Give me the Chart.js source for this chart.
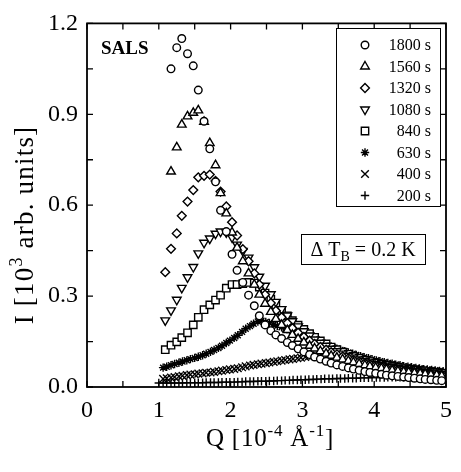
<!DOCTYPE html>
<html>
<head>
<meta charset="utf-8">
<script src="https://cdn.jsdelivr.net/npm/chart.js@4.4.1/dist/chart.umd.min.js"></script>
<style>
  html, body { margin: 0; padding: 0; background: #fff; }
  #wrap { width: 461px; height: 472px; }
</style>
</head>
<body>
<div id="wrap"><canvas id="c"></canvas></div>
<script>
// Q values [10^-4 A^-1] for the later times
const q = [1.02, 1.09, 1.17, 1.25, 1.32, 1.40, 1.48, 1.55, 1.63, 1.71, 1.79, 1.86, 1.94,
  2.02, 2.09, 2.17, 2.25, 2.33, 2.40, 2.48, 2.56, 2.63, 2.71, 2.79, 2.86, 2.94,
  3.02, 3.10, 3.17, 3.25, 3.33, 3.40, 3.48, 3.56, 3.64, 3.71, 3.79, 3.87, 3.94,
  4.02, 4.10, 4.17, 4.25, 4.33, 4.41, 4.48, 4.56, 4.64, 4.71, 4.79, 4.87, 4.94];
// finer Q values for the early times
const qd = [1.00, 1.06, 1.11, 1.17, 1.22, 1.28, 1.33, 1.39, 1.44, 1.50,
  1.55, 1.61, 1.66, 1.72, 1.77, 1.83, 1.88, 1.94, 1.99, 2.05,
  2.10, 2.16, 2.21, 2.27, 2.32, 2.38, 2.43, 2.49, 2.54, 2.60,
  2.65, 2.71, 2.76, 2.82, 2.87, 2.93, 2.98, 3.04, 3.09, 3.15,
  3.20, 3.26, 3.31, 3.37, 3.42, 3.48, 3.53, 3.59, 3.64, 3.70,
  3.75, 3.81, 3.86, 3.92, 3.97, 4.03, 4.08, 4.14, 4.19, 4.25,
  4.30, 4.36, 4.41, 4.47, 4.52, 4.58, 4.63, 4.69, 4.74, 4.80,
  4.85, 4.91, 4.96];

// intensities [10^3 arb. units], one list per time
const i1800 = [null, null, 1.05, 1.12, 1.15, 1.10, 1.06, 0.98, 0.877, 0.786, 0.677, 0.583, 0.513,
  0.438, 0.385, 0.345, 0.303, 0.268, 0.235, 0.205, 0.186, 0.172, 0.160, 0.147, 0.137, 0.126,
  0.116, 0.107, 0.099, 0.092, 0.085, 0.079, 0.073, 0.068, 0.063, 0.059, 0.055, 0.051, 0.048,
  0.045, 0.042, 0.039, 0.037, 0.035, 0.033, 0.031, 0.029, 0.027, 0.025, 0.024, 0.022, 0.021];
const i1560 = [null, null, 0.711, 0.791, 0.866, 0.893, 0.905, 0.913, 0.875, 0.805, 0.732, 0.640, 0.573,
  0.51, 0.46, 0.415, 0.375, 0.338, 0.305, 0.275, 0.248, 0.225, 0.205, 0.188, 0.172, 0.159,
  0.147, 0.136, 0.127, 0.118, 0.110, 0.103, 0.097, 0.091, 0.086, 0.081, 0.076, 0.072, 0.068,
  0.064, 0.061, 0.058, 0.055, 0.052, 0.050, 0.048, 0.046, 0.044, 0.042, 0.040, 0.039, 0.037];
const i1320 = [null, 0.379, 0.456, 0.507, 0.565, 0.612, 0.650, 0.692, 0.697, 0.701, 0.68, 0.645, 0.596,
  0.544, 0.50, 0.455, 0.415, 0.375, 0.338, 0.305, 0.277, 0.252, 0.230, 0.211, 0.194, 0.179,
  0.165, 0.153, 0.142, 0.132, 0.123, 0.115, 0.108, 0.101, 0.095, 0.089, 0.084, 0.079, 0.075,
  0.071, 0.067, 0.063, 0.060, 0.057, 0.054, 0.052, 0.049, 0.047, 0.045, 0.043, 0.041, 0.040];
const i1080 = [null, 0.22, 0.253, 0.288, 0.327, 0.362, 0.396, 0.441, 0.476, 0.49, 0.506, 0.513, 0.51,
  0.494, 0.47, 0.449, 0.427, 0.395, 0.364, 0.334, 0.306, 0.281, 0.257, 0.236, 0.217, 0.200,
  0.184, 0.170, 0.157, 0.146, 0.136, 0.126, 0.118, 0.110, 0.103, 0.097, 0.091, 0.086, 0.081,
  0.076, 0.072, 0.068, 0.065, 0.062, 0.059, 0.056, 0.053, 0.051, 0.049, 0.047, 0.045, 0.043];
const i840 = [null, 0.123, 0.138, 0.149, 0.163, 0.179, 0.205, 0.230, 0.255, 0.271, 0.287, 0.303, 0.326,
  0.338, 0.338, 0.341, 0.345, 0.343, 0.33, 0.31, 0.29, 0.27, 0.252, 0.235, 0.219, 0.204,
  0.190, 0.176, 0.164, 0.152, 0.142, 0.132, 0.123, 0.115, 0.108, 0.101, 0.095, 0.089, 0.084,
  0.079, 0.075, 0.071, 0.067, 0.064, 0.061, 0.058, 0.055, 0.053, 0.051, 0.049, 0.047, 0.045];
const i630 = [null, 0.064, 0.067, 0.072, 0.076, 0.080, 0.084, 0.088, 0.092, 0.096,
  0.100, 0.105, 0.110, 0.116, 0.122, 0.129, 0.136, 0.145, 0.153, 0.162,
  0.171, 0.182, 0.192, 0.201, 0.209, 0.216, 0.219, 0.215, 0.211, 0.206,
  0.202, 0.197, 0.192, 0.187, 0.182, 0.176, 0.171, 0.166, 0.161, 0.156,
  0.151, 0.146, 0.141, 0.136, 0.131, 0.126, 0.122, 0.118, 0.114, 0.110,
  0.106, 0.102, 0.098, 0.095, 0.092, 0.088, 0.085, 0.082, 0.079, 0.077,
  0.074, 0.072, 0.069, 0.067, 0.065, 0.063, 0.061, 0.059, 0.058, 0.056,
  0.055, 0.053, 0.052];
const i400 = [null, 0.027, 0.029, 0.031, 0.033, 0.035, 0.037, 0.039, 0.041, 0.042,
  0.044, 0.045, 0.047, 0.048, 0.050, 0.052, 0.054, 0.056, 0.058, 0.060,
  0.062, 0.065, 0.068, 0.071, 0.073, 0.075, 0.077, 0.079, 0.081, 0.083,
  0.085, 0.087, 0.089, 0.091, 0.093, 0.095, 0.097, 0.099, 0.101, 0.103,
  0.104, 0.105, 0.105, 0.104, 0.103, 0.101, 0.099, 0.097, 0.095, 0.093,
  0.091, 0.089, 0.086, 0.084, 0.082, 0.080, 0.077, 0.075, 0.073, 0.071,
  0.069, 0.067, 0.065, 0.063, 0.061, 0.059, 0.058, 0.056, 0.054, 0.052,
  0.051, 0.049, 0.048];
const i200 = [0.013, 0.013, 0.013, 0.013, 0.013, 0.013, 0.013, 0.014, 0.014, 0.014,
  0.014, 0.014, 0.015, 0.015, 0.015, 0.015, 0.016, 0.016, 0.016, 0.016,
  0.017, 0.017, 0.018, 0.018, 0.018, 0.019, 0.019, 0.019, 0.020, 0.020,
  0.021, 0.021, 0.022, 0.022, 0.023, 0.023, 0.024, 0.024, 0.025, 0.025,
  0.026, 0.026, 0.027, 0.027, 0.027, 0.028, 0.028, 0.028, 0.029, 0.029,
  0.029, 0.030, 0.030, 0.030, 0.031, 0.031, 0.031, 0.031, 0.032, 0.032,
  0.032, 0.032, 0.032, 0.032, 0.032, 0.032, 0.032, 0.032, 0.032, 0.032,
  0.031, 0.031, 0.031];

const seriesLabels = ['1800 s', '1560 s', '1320 s', '1080 s', '840 s', '630 s', '400 s', '200 s'];
const seriesValues = [i1800, i1560, i1320, i1080, i840, i630, i400, i200];
const seriesQ = [q, q, q, q, q, qd, qd, qd];
const xTickMarks = [0, 0.5, 1, 1.5, 2, 2.5, 3, 3.5, 4, 4.5, 5];
const yTickMarks = [0, 0.15, 0.3, 0.45, 0.6, 0.75, 0.9, 1.05, 1.2];

const markers = [
  { style: 'circle', r: 3.8, rot: 0 },
  { style: 'triangle', r: 5, rot: 0 },
  { style: 'rectRot', r: 4.4, rot: 0 },
  { style: 'triangle', r: 5, rot: 180 },
  { style: 'rect', r: 5.2, rot: 0 },
  { style: 'star', r: 4.2, rot: 0 },
  { style: 'crossRot', r: 5.4, rot: 0 },
  { style: 'cross', r: 4.2, rot: 0 }
];

const serif = '"Liberation Serif", "Times New Roman", serif';

const datasets = seriesValues.map((vals, k) => ({
  label: seriesLabels[k],
  data: seriesQ[k].map((x, i) => ({ x: x, y: vals[i] })).filter(p => p.y !== null),
  pointStyle: markers[k].style,
  pointRadius: markers[k].r,
  pointRotation: markers[k].rot,
  pointBorderWidth: 1.4,
  borderColor: '#000',
  backgroundColor: '#fff',
  showLine: false
}));

function drawRich(ctx, parts, cx, cy, spacing) {
  // parts: [text, size, dy]
  ctx.letterSpacing = (spacing || 0) + 'px';
  let total = 0;
  parts.forEach(p => { ctx.font = p[1] + 'px ' + serif; total += ctx.measureText(p[0]).width; });
  let x = cx - total / 2;
  parts.forEach(p => {
    ctx.font = p[1] + 'px ' + serif;
    ctx.fillText(p[0], x, cy + p[2]);
    x += ctx.measureText(p[0]).width;
  });
  ctx.letterSpacing = '0px';
}

const decor = {
  id: 'decor',
  afterDatasetsDraw(chart) {
    const { ctx, chartArea: a, scales: { x, y } } = chart;
    ctx.save();
    ctx.strokeStyle = '#000';
    ctx.lineWidth = 1.3;
    ctx.beginPath();
    xTickMarks.forEach(v => {
      const px = x.getPixelForValue(v);
      ctx.moveTo(px, a.bottom); ctx.lineTo(px, a.bottom - 6);
      ctx.moveTo(px, a.top); ctx.lineTo(px, a.top + 6);
    });
    yTickMarks.forEach(v => {
      const py = y.getPixelForValue(v);
      ctx.moveTo(a.left, py); ctx.lineTo(a.left + 6, py);
      ctx.moveTo(a.right, py); ctx.lineTo(a.right - 6, py);
    });
    ctx.stroke();
    ctx.lineWidth = 1.8;
    ctx.strokeRect(a.left, a.top, a.right - a.left, a.bottom - a.top);

    // legend box
    ctx.lineWidth = 1;
    ctx.fillStyle = '#fff';
    ctx.fillRect(336, 28, 104, 178);
    ctx.strokeRect(336.5, 28.5, 104, 178);
    ctx.textBaseline = 'middle';
    seriesLabels.forEach((lab, k) => {
      const yy = 45 + k * 21.5;
      ctx.fillStyle = '#fff';
      ctx.strokeStyle = '#000';
      ctx.lineWidth = 1.4;
      Chart.helpers.drawPoint(ctx, { pointStyle: markers[k].style, radius: markers[k].r, rotation: markers[k].rot, borderWidth: 1.4 }, 365, yy);
      ctx.fillStyle = '#000';
      ctx.font = '16px ' + serif;
      ctx.textAlign = 'right';
      ctx.fillText(lab, 431, yy + 1);
    });

    // delta T box
    ctx.fillStyle = '#fff';
    ctx.fillRect(301, 234, 124, 30);
    ctx.lineWidth = 1;
    ctx.strokeRect(301.5, 234.5, 124, 30);
    ctx.fillStyle = '#000';
    ctx.textAlign = 'left';
    ctx.textBaseline = 'alphabetic';
    drawRich(ctx, [['\u0394 T', 20, 0], ['B', 14, 5], [' = 0.2 K', 20, 0]], 363, 256);

    // SALS
    ctx.font = 'bold 19px ' + serif;
    ctx.fillText('SALS', 101, 54);

    // axis titles
    drawRich(ctx, [['Q [10', 25, 0], ['-4', 17, -10], [' \u00c5', 25, 0], ['-1', 17, -10], [']', 25, 0]], 270, 446, 0.8);
    ctx.translate(33, 225);
    ctx.rotate(-Math.PI / 2);
    drawRich(ctx, [['I [10', 27, 0], ['3', 18, -11], [' arb. units]', 27, 0]], 0, 0, 1.2);
    ctx.restore();
  }
};

new Chart(document.getElementById('c'), {
  type: 'scatter',
  data: { datasets: datasets },
  plugins: [decor],
  options: {
    responsive: true,
    maintainAspectRatio: false,
    animation: false,
    layout: { padding: { left: 0, top: 16, right: 5, bottom: 0 } },
    plugins: { legend: { display: false }, tooltip: { enabled: false } },
    scales: {
      x: {
        type: 'linear', min: 0, max: 5,
        afterFit(s) { s.height = 85; },
        grid: { display: false, drawTicks: false },
        border: { display: false },
        ticks: { stepSize: 1, padding: 9, maxRotation: 0, color: '#000', font: { family: serif, size: 24 } }
      },
      y: {
        min: 0, max: 1.2,
        afterFit(s) { s.width = 87; },
        grid: { display: false, drawTicks: false },
        border: { display: false },
        ticks: { stepSize: 0.3, padding: 9, color: '#000', font: { family: serif, size: 24 },
          callback: v => v.toFixed(1) }
      }
    }
  }
});
</script>
</body>
</html>
